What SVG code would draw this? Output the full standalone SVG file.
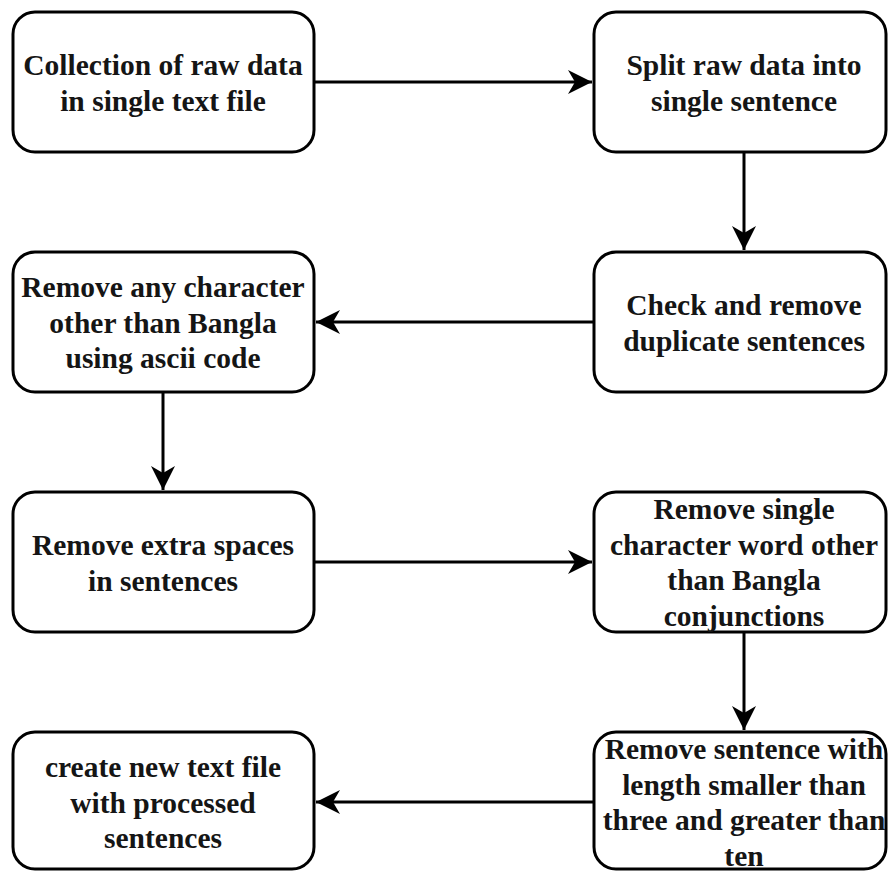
<svg xmlns="http://www.w3.org/2000/svg" width="888" height="872" viewBox="0 0 888 872">
<style>
.box{fill:#fff;stroke:#000;stroke-width:3}
.t{font-family:'Liberation Serif','Times New Roman',serif;font-weight:700;font-size:29.5px;fill:#151515;text-anchor:middle}
.c{fill:none;stroke:#000;stroke-width:3}
</style>
<defs>
<marker id="ah" markerUnits="userSpaceOnUse" markerWidth="26" markerHeight="26" viewBox="0 0 26 26" refX="24" refY="13" orient="auto">
<path d="M0,1 L24,13 L0,25 L7,13 Z" fill="#000"/>
</marker>
</defs>
<rect width="888" height="872" fill="#fff"/>
<g id="connectors">
<line class="c" x1="314" y1="82" x2="592" y2="82" marker-end="url(#ah)"/>
<line class="c" x1="744" y1="152" x2="744" y2="250" marker-end="url(#ah)"/>
<line class="c" x1="594" y1="322" x2="316" y2="322" marker-end="url(#ah)"/>
<line class="c" x1="163" y1="392" x2="163" y2="490" marker-end="url(#ah)"/>
<line class="c" x1="314" y1="562" x2="592" y2="562" marker-end="url(#ah)"/>
<line class="c" x1="744" y1="632" x2="744" y2="730" marker-end="url(#ah)"/>
<line class="c" x1="594" y1="802" x2="316" y2="802" marker-end="url(#ah)"/>
</g>
<g id="n1"><rect class="box" x="13" y="12" width="301" height="140" rx="22"/>
<text class="t"><tspan x="163" y="75">Collection of raw data</tspan><tspan x="163" y="110.5">in single text file</tspan></text></g>
<g id="n2"><rect class="box" x="594" y="12" width="292" height="140" rx="22"/>
<text class="t"><tspan x="744" y="75">Split raw data into</tspan><tspan x="744" y="110.5">single sentence</tspan></text></g>
<g id="n3"><rect class="box" x="13" y="252" width="301" height="140" rx="22"/>
<text class="t"><tspan x="163" y="297">Remove any character</tspan><tspan x="163" y="332.5">other than Bangla</tspan><tspan x="163" y="368">using ascii code</tspan></text></g>
<g id="n4"><rect class="box" x="594" y="252" width="292" height="140" rx="22"/>
<text class="t"><tspan x="744" y="315">Check and remove</tspan><tspan x="744" y="350.5">duplicate sentences</tspan></text></g>
<g id="n5"><rect class="box" x="13" y="492" width="301" height="140" rx="22"/>
<text class="t"><tspan x="163" y="555">Remove extra spaces</tspan><tspan x="163" y="590.5">in sentences</tspan></text></g>
<g id="n6"><rect class="box" x="594" y="492" width="292" height="140" rx="22"/>
<text class="t"><tspan x="744" y="519">Remove single</tspan><tspan x="744" y="554.5">character word other</tspan><tspan x="744" y="590">than Bangla</tspan><tspan x="744" y="625.5">conjunctions</tspan></text></g>
<g id="n7"><rect class="box" x="13" y="732" width="301" height="137" rx="22"/>
<text class="t"><tspan x="163" y="777">create new text file</tspan><tspan x="163" y="812.5">with processed</tspan><tspan x="163" y="848">sentences</tspan></text></g>
<g id="n8"><rect class="box" x="594" y="732" width="292" height="137" rx="22"/>
<text class="t"><tspan x="744" y="759">Remove sentence with</tspan><tspan x="744" y="794.5">length smaller than</tspan><tspan x="744" y="830">three and greater than</tspan><tspan x="744" y="865.5">ten</tspan></text></g>
</svg>
